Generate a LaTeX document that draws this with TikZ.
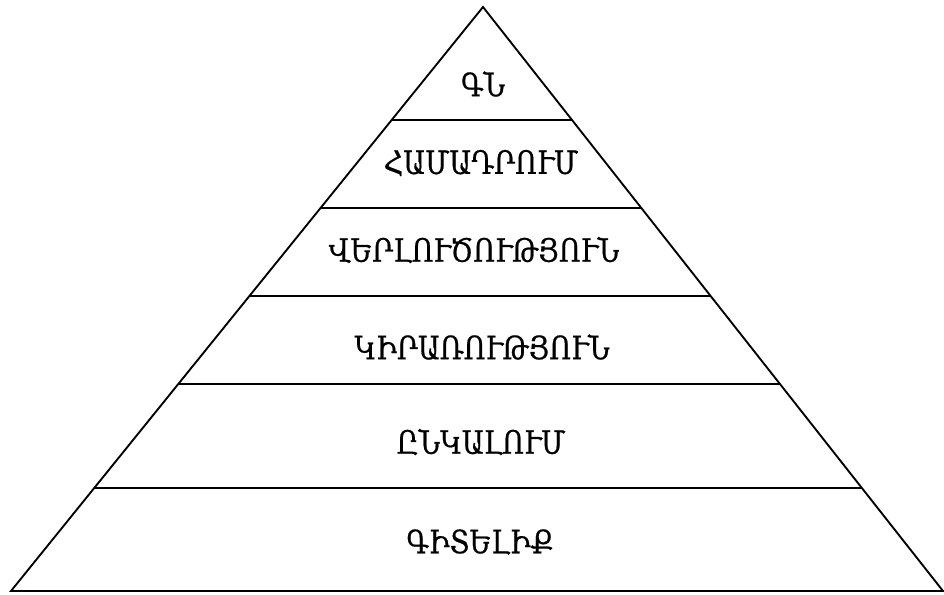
\documentclass[tikz,border=0pt]{standalone}
\usepackage{fontspec}
\newfontfamily\armfont[Script=Armenian, FakeStretch=0.84, FakeBold=0.6]{DejaVu Serif}
\usetikzlibrary{calc}
\tikzstyle{level} = [font=\armfont\fontsize{27.5}{32}\selectfont, inner sep=0pt]

\begin{document}
\begin{tikzpicture}[x=0.03cm, y=-0.03cm, line width=1.6pt]
    \useasboundingbox (0,0) rectangle (944,595);
    \coordinate (apex) at (483,7);
    \coordinate (bl) at (11,591);
    \coordinate (br) at (943,591);
    \draw (bl) -- (apex) -- (br) -- cycle;
    % dividing lines
    \foreach \t in {0.1935, 0.344, 0.495, 0.6455, 0.8236}
        \draw ($(apex)!\t!(bl)$) -- ($(apex)!\t!(br)$);
    \node [level] (gn) at (483,84) {ԳՆ};
    \node [level] (hamadrum) at (481,163) {ՀԱՄԱԴՐՈՒՄ};
    \node [level] (verlutsutyun) at (474,250) {ՎԵՐԼՈՒԾՈՒԹՅՈՒՆ};
    \node [level] (kirarutyun) at (482,347) {ԿԻՐԱՌՈՒԹՅՈՒՆ};
    \node [level] (enkalum) at (481,442) {ԸՆԿԱԼՈՒՄ};
    \node [level] (gitelik) at (480,542) {ԳԻՏԵԼԻՔ};
\end{tikzpicture}
\end{document}
